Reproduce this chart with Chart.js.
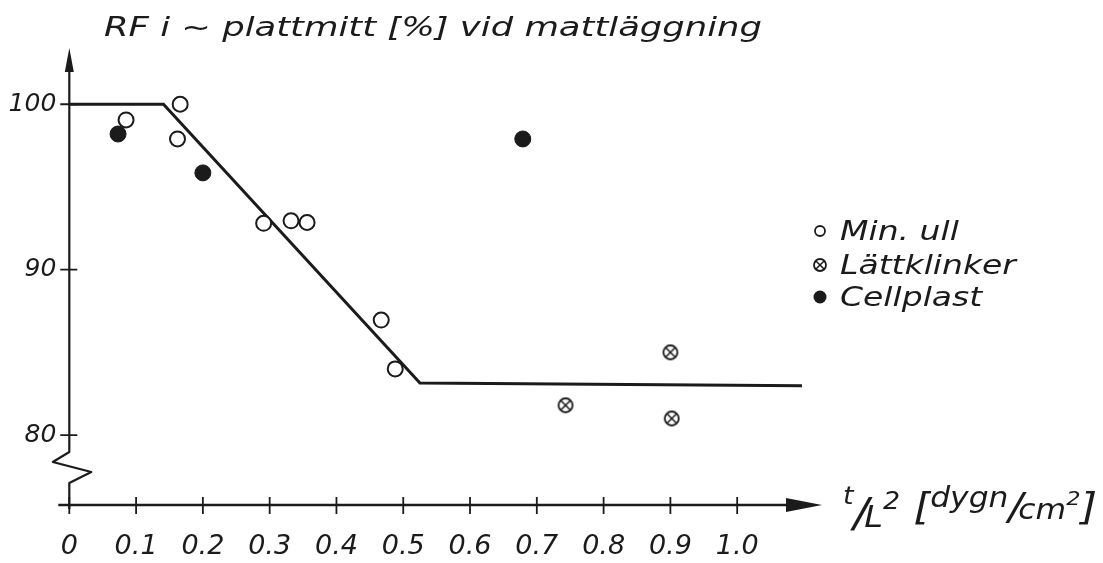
<!DOCTYPE html>
<html>
<head>
<meta charset="utf-8">
<script src="https://cdn.jsdelivr.net/npm/chart.js@4.4.1/dist/chart.umd.min.js"></script>
<style>
  html, body { margin: 0; background: #fff; }
  #wrap { width: 1103px; height: 563px; position: relative; }
</style>
</head>
<body>
<div id="wrap"><canvas id="chart"></canvas></div>
<script>
// values
const titleText = 'RF i ~ plattmitt [%] vid mattläggning';
const xTickValues = [0, 0.1, 0.2, 0.3, 0.4, 0.5, 0.6, 0.7, 0.8, 0.9, 1.0];
const yTickValues = [80, 90, 100];

const minUllX = [0.085, 0.166, 0.162, 0.291, 0.332, 0.356, 0.467, 0.488];
const minUllY = [99.05, 100.0, 97.9, 92.8, 92.95, 92.85, 86.95, 84.0];

const lattklinkerX = [0.743, 0.900, 0.902];
const lattklinkerY = [81.8, 85.0, 81.0];

const cellplastX = [0.073, 0.200, 0.679];
const cellplastY = [98.2, 95.85, 97.9];

const trendX = [0, 0.141, 0.525, 1.097];
const trendY = [100, 100, 83.15, 82.98];

const seriesLabels = ['Min. ull', 'Lättklinker', 'Cellplast'];

const ink = '#1b1b1b';
const hand = '"DejaVu Sans", "Liberation Sans", sans-serif';

function toPoints(xs, ys) {
  return xs.map((x, i) => ({ x, y: ys[i] }));
}

// circle with a cross, the "Lättklinker" marker
function crossedCircle(r) {
  const size = Math.ceil(r * 2 + 4);
  const c = document.createElement('canvas');
  c.width = size; c.height = size;
  const g = c.getContext('2d');
  const m = size / 2;
  g.strokeStyle = ink;
  g.lineWidth = 1.8;
  g.fillStyle = '#fff';
  g.beginPath(); g.arc(m, m, r, 0, Math.PI * 2); g.fill(); g.stroke();
  const d = r * 0.68;
  g.lineWidth = 1.5;
  g.beginPath();
  g.moveTo(m - d, m - d); g.lineTo(m + d, m + d);
  g.moveTo(m + d, m - d); g.lineTo(m - d, m + d);
  g.stroke();
  return c;
}
const crossMarker = crossedCircle(7);
const crossMarkerSmall = crossedCircle(6);

// hand lettering is wider than the font, so stretch text sideways
function stretchText(ctx, text, x, y, factor) {
  ctx.save();
  ctx.translate(x, y);
  ctx.scale(factor, 1);
  ctx.fillText(text, 0, 0);
  ctx.restore();
}

const sketchPlugin = {
  id: 'sketch',
  beforeDatasetsDraw(chart) {
    const { ctx, chartArea: a, scales: { x, y } } = chart;
    const x0 = x.getPixelForValue(0);
    const yb = a.bottom;
    const y80 = y.getPixelForValue(80);
    ctx.save();
    ctx.strokeStyle = ink;
    ctx.fillStyle = ink;
    ctx.lineWidth = 2.2;
    ctx.lineJoin = 'round';

    // y axis with the broken part below 80
    ctx.beginPath();
    ctx.moveTo(x0, a.top + 18);
    ctx.lineTo(x0, y80 + 17);
    ctx.lineTo(x0 - 16.5, y80 + 27);
    ctx.lineTo(x0 + 22, y80 + 37);
    ctx.lineTo(x0, y80 + 48);
    ctx.lineTo(x0, yb + 4);
    ctx.stroke();
    ctx.beginPath();
    ctx.moveTo(x0, a.top);
    ctx.lineTo(x0 - 4.5, a.top + 24);
    ctx.lineTo(x0 + 4.5, a.top + 24);
    ctx.closePath();
    ctx.fill();

    // x axis with arrow
    ctx.lineWidth = 2.6;
    ctx.beginPath();
    ctx.moveTo(x0 - 11, yb);
    ctx.lineTo(a.right - 30, yb);
    ctx.stroke();
    ctx.beginPath();
    ctx.moveTo(a.right, yb);
    ctx.lineTo(a.right - 36, yb - 7);
    ctx.lineTo(a.right - 36, yb + 7);
    ctx.closePath();
    ctx.fill();

    // tick marks crossing the axes
    ctx.lineWidth = 1.8;
    ctx.beginPath();
    for (const v of xTickValues) {
      const px = x.getPixelForValue(v);
      ctx.moveTo(px, yb - 8);
      ctx.lineTo(px, yb + 9);
    }
    for (const v of yTickValues) {
      const py = y.getPixelForValue(v);
      ctx.moveTo(x0 - 9, py);
      ctx.lineTo(x0 + 8, py);
    }
    ctx.stroke();
    ctx.restore();
  },
  afterDraw(chart) {
    const { ctx, chartArea: a } = chart;
    ctx.save();
    ctx.fillStyle = ink;
    ctx.strokeStyle = ink;
    ctx.textBaseline = 'alphabetic';

    // title
    ctx.font = `italic 27px ${hand}`;
    const tw = ctx.measureText(titleText).width;
    stretchText(ctx, titleText, 104, 36, 658 / tw);

    // x axis title  t/L² [dygn/cm²]
    const base = a.bottom + 14;
    const parts = [
      ['t', 24, -15], ['/', 40, 8], ['L', 30, 8], ['2', 24, -10],
      [' [', 38, 0], ['dygn', 28, -12], ['/', 38, 0], ['cm', 28, 0],
      ['2', 20, -14], [']', 38, 0]
    ];
    let total = 0;
    for (const [t, size] of parts) {
      ctx.font = `italic ${size}px ${hand}`;
      total += ctx.measureText(t).width - (t === '/' ? 4 : 0);
    }
    const sx = 254 / total;
    let px = a.right + 21;
    for (const [t, size, dy] of parts) {
      ctx.font = `italic ${size}px ${hand}`;
      stretchText(ctx, t, px, base + dy, sx);
      px += (ctx.measureText(t).width - (t === '/' ? 4 : 0)) * sx;
    }

    // legend
    const lx = 820;
    const rows = [231, 265, 297];
    ctx.font = `italic 26px ${hand}`;
    rows.forEach((ry, i) => {
      ctx.lineWidth = 1.8;
      if (i === 0) {
        ctx.beginPath(); ctx.arc(lx, ry, 5, 0, Math.PI * 2); ctx.stroke();
      } else if (i === 1) {
        ctx.drawImage(crossMarkerSmall, lx - crossMarkerSmall.width / 2, ry - crossMarkerSmall.height / 2);
      } else {
        ctx.beginPath(); ctx.arc(lx, ry, 6.5, 0, Math.PI * 2); ctx.fill();
      }
      stretchText(ctx, chart.data.datasets[i + 1].label, lx + 20, ry + 9, 1.27);
    });
    ctx.restore();
  }
};

new Chart(document.getElementById('chart'), {
  type: 'scatter',
  data: {
    datasets: [
      {
        label: 'trend',
        data: toPoints(trendX, trendY),
        showLine: true,
        borderColor: ink,
        borderWidth: 3,
        pointRadius: 0,
        order: 5
      },
      {
        label: seriesLabels[0],
        data: toPoints(minUllX, minUllY),
        pointStyle: 'circle',
        pointRadius: 7.5,
        pointBorderWidth: 2,
        borderColor: ink,
        backgroundColor: '#fff',
        order: 1
      },
      {
        label: seriesLabels[1],
        data: toPoints(lattklinkerX, lattklinkerY),
        pointStyle: crossMarker,
        order: 1
      },
      {
        label: seriesLabels[2],
        data: toPoints(cellplastX, cellplastY),
        pointStyle: 'circle',
        pointRadius: 8,
        pointBorderWidth: 1,
        borderColor: ink,
        backgroundColor: ink,
        order: 1
      }
    ]
  },
  options: {
    responsive: true,
    maintainAspectRatio: false,
    animation: false,
    layout: { padding: { top: 48, right: 281, left: 0, bottom: 0 } },
    plugins: { legend: { display: false }, tooltip: { enabled: false }, title: { display: false } },
    scales: {
      x: {
        type: 'linear',
        min: 0,
        max: 1.127,
        afterBuildTicks: (s) => { s.ticks = xTickValues.map(v => ({ value: v })); },
        afterFit: (s) => { s.height = 58; },
        grid: { display: false, drawTicks: false },
        border: { display: false },
        ticks: {
          color: ink,
          padding: 26,
          maxRotation: 0,
          autoSkip: false,
          font: { family: hand, size: 27, style: 'italic' },
          callback: (v) => v === 0 ? '0' : Number(v).toFixed(1)
        }
      },
      y: {
        type: 'linear',
        min: 75.77,
        max: 103.4,
        afterBuildTicks: (s) => { s.ticks = yTickValues.map(v => ({ value: v })); },
        afterFit: (s) => { s.width = 69.3; },
        grid: { display: false, drawTicks: false },
        border: { display: false },
        ticks: {
          color: ink,
          padding: 13,
          font: { family: hand, size: 25, style: 'italic' },
          callback: (v) => String(v)
        }
      }
    }
  },
  plugins: [sketchPlugin]
});
</script>
</body>
</html>
